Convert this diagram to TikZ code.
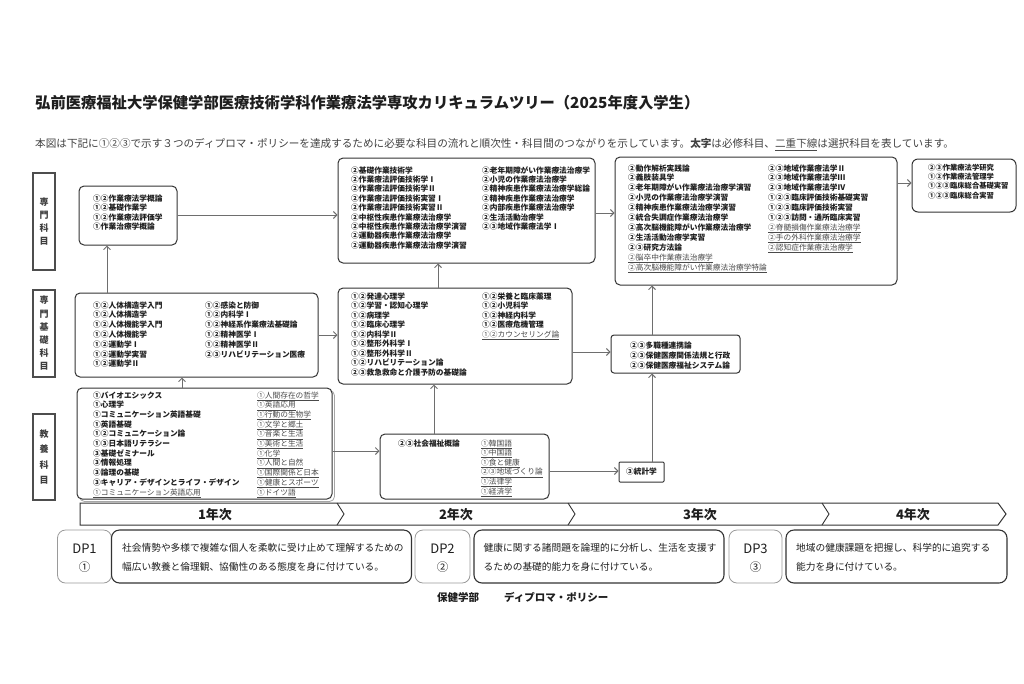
\documentclass[tikz,border=0pt]{standalone}
\usepackage{fontspec}
\setmainfont{Noto Sans CJK JP}
\usetikzlibrary{arrows.meta}
\definecolor{ink}{HTML}{1E1E1E}
\definecolor{frame}{HTML}{333333}
\definecolor{arrowc}{HTML}{6E6E6E}
\definecolor{optc}{HTML}{4A4A4A}
\definecolor{catc}{HTML}{4D4D4D}
\definecolor{dpc}{HTML}{9A9A9A}
\newcommand\opt[1]{{\mdseries\color{optc}\underline{#1}}}
\newcommand\boxfont{\fontsize{7.7}{9.6}\selectfont\bfseries}
\tikzset{
  cbox/.style={draw=frame, line width=1pt, rounded corners=5pt, inner sep=0pt, fill=white},
  catbox/.style={draw=catc, line width=2pt, inner sep=0pt, fill=white},
  cattxt/.style={inner sep=0pt, align=center, text=catc!80!black},
  txt/.style={inner sep=0pt, anchor=base west, font=\boxfont, text=ink},
  arr/.style={draw=arrowc, line width=0.9pt, -{Straight Barb[length=3.5pt,width=7pt]}},
  dplab/.style={draw=dpc, line width=0.8pt, rounded corners=8pt, inner sep=0pt},
  dptext/.style={draw=frame, line width=1.1pt, rounded corners=8pt, inner sep=0pt},
  dpt/.style={inner sep=0pt, anchor=base west, font=\fontsize{9.7}{12}\selectfont, text=ink},
  yeart/.style={inner sep=0pt, anchor=base, font=\fontsize{13}{15}\selectfont\bfseries, text=ink},
}
\newcommand\lines[6]{%
  \foreach \t [count=\i from 0] in {#6}{%
    \node[txt,#2] (#1-\i) at (#3,{#4+\i*#5}) {\t};}}
\newcommand\cb[6]{%
  \node[cbox,#2,minimum width=#5-#3,minimum height=#6-#4] (#1) at ({(#3+#5)/2},{(#4+#6)/2}) {};}
\begin{document}
\begin{tikzpicture}[x=1pt,y=-1pt]
\useasboundingbox (0,0) rectangle (1024,683);
\fill[white] (0,0) rectangle (1024,683);

% title and description
\node[inner sep=0pt, anchor=base west, font=\fontsize{15.3}{17}\selectfont\bfseries, text=ink] (title) at (35,108.8)
  {弘前医療福祉大学保健学部医療技術学科作業療法学専攻カリキュラムツリー（2025年度入学生）};
\node[inner sep=0pt, anchor=base west, font=\fontsize{10.6}{12}\selectfont, text=ink!85] (desc) at (35,147.5)
  {本図は下記に①②③で示す３つのディプロマ・ポリシーを達成するために必要な科目の流れと順次性・科目間のつながりを示しています。\textbf{太字}は必修科目、{\color{optc}\underline{二重下線}}は選択科目を表しています。};

% category labels
\node[catbox, minimum width=22, minimum height=97] (k1) at (44,221.5) {};
\node[cattxt, font=\fontsize{9}{13}\selectfont\bfseries] (k1t) at (k1) {専\\門\\科\\目};
\node[catbox, minimum width=22, minimum height=87] (k2) at (44,333.5) {};
\node[cattxt, font=\fontsize{9}{13.2}\selectfont\bfseries] (k2t) at (k2) {専\\門\\基\\礎\\科\\目};
\node[catbox, minimum width=22, minimum height=86] (k3) at (44,457) {};
\node[cattxt, font=\fontsize{9}{15.3}\selectfont\bfseries] (k3t) at (k3) {教\\養\\科\\目};

% boxes
\draw[draw=gray!70, line width=0.8pt, rounded corners=5pt] (79.5,390.5) rectangle (334.5,501.5);
\cb{A}{}{79}{186}{177}{245}
\cb{B}{}{75}{293}{318}{377}
\cb{C}{}{77}{388}{332}{499}
\cb{D}{}{380}{434}{549}{499}
\cb{F}{}{338}{158}{595}{263}
\cb{H}{}{338}{288}{572}{384}
\cb{G}{}{615}{157}{897}{285}
\cb{I}{rounded corners=3pt}{611}{335}{740}{373}
\cb{J}{rounded corners=6pt}{912}{159}{1016}{212}
\node[draw=frame, line width=1pt, rounded corners=1pt, minimum width=45, minimum height=20, inner sep=0pt, font=\boxfont, text=ink] (E) at (641.5,472) {③統計学};

% texts
\lines{a}{}{93}{201}{9.6}{①②作業療法学概論,①②基礎作業学,①②作業療法評価学,①作業治療学概論}
\lines{b1}{}{93}{308}{9.8}{①②人体構造学入門,①②人体構造学,①②人体機能学入門,①②人体機能学,①②運動学Ⅰ,①②運動学実習,①②運動学Ⅱ}
\lines{b2}{}{205}{308}{9.8}{①②感染と防御,①②内科学Ⅰ,①②神経系作業療法基礎論,①②精神医学Ⅰ,①②精神医学Ⅱ,②③リハビリテーション医療}
\lines{c1}{}{93}{398}{9.7}{①バイオエシックス,①心理学,①コミュニケーション英語基礎,①英語基礎,①②コミュニケーション論,①③日本語リテラシー,③基礎ゼミナール,③情報処理,③論理の基礎,③キャリア・デザインとライフ・デザイン,\opt{①コミュニケーション英語応用}}
\lines{c2}{}{257}{398}{9.7}{\opt{①人間存在の哲学},\opt{①英語応用},\opt{①行動の生物学},\opt{①文学と郷土},\opt{①音楽と生活},\opt{①美術と生活},\opt{①化学},\opt{①人間と自然},\opt{①国際関係と日本},\opt{①健康とスポーツ},\opt{①ドイツ語}}
\lines{d1}{}{398}{446}{9.6}{②③社会福祉概論}
\lines{d2}{}{481}{446}{9.6}{\opt{①韓国語},\opt{①中国語},\opt{①食と健康},\opt{②③地域づくり論},\opt{①法律学},\opt{①経済学}}
\lines{f1}{}{351}{173}{9.4}{②基礎作業技術学,②作業療法評価技術学Ⅰ,②作業療法評価技術学Ⅱ,②作業療法評価技術実習Ⅰ,②作業療法評価技術実習Ⅱ,②中枢性疾患作業療法治療学,②中枢性疾患作業療法治療学演習,②運動器疾患作業療法治療学,②運動器疾患作業療法治療学演習}
\lines{f2}{}{482}{173}{9.4}{②老年期障がい作業療法治療学,②小児の作業療法治療学,②精神疾患作業療法治療学総論,②精神疾患作業療法治療学,②内部疾患作業療法治療学,②生活活動治療学,②③地域作業療法学Ⅰ}
\lines{h1}{}{351}{299}{9.5}{①②発達心理学,①②学習・認知心理学,①②病理学,①②臨床心理学,①②内科学Ⅱ,①②整形外科学Ⅰ,①②整形外科学Ⅱ,①②リハビリテーション論,②③救急救命と介護予防の基礎論}
\lines{h2}{}{482}{299}{9.5}{①②栄養と臨床薬理,①②小児科学,①②神経内科学,①②医療危機管理,\opt{①②カウンセリング論}}
\lines{g1}{}{628}{171}{9.9}{②動作解析実践論,②義肢装具学,②老年期障がい作業療法治療学演習,②小児の作業療法治療学演習,②精神疾患作業療法治療学演習,②統合失調症作業療法治療学,②高次脳機能障がい作業療法治療学,②生活活動治療学実習,②③研究方法論,\opt{②脳卒中作業療法治療学},\opt{②高次脳機能障がい作業療法治療学特論}}
\lines{g2}{}{768}{171}{9.9}{②③地域作業療法学Ⅱ,②③地域作業療法学Ⅲ,②③地域作業療法学Ⅳ,①②③臨床評価技術基礎実習,①②③臨床評価技術実習,①②③訪問・通所臨床実習,\opt{②脊髄損傷作業療法治療学},\opt{②手の外科作業療法治療学},\opt{②認知症作業療法治療学}}
\lines{i}{}{630}{348}{10}{②③多職種連携論,②③保健医療関係法規と行政,②③保健医療福祉システム論}
\lines{j}{font=\fontsize{7.3}{9}\selectfont\bfseries}{928}{170}{9.4}{②③作業療法学研究,①②作業療法管理学,①②③臨床総合基礎実習,①②③臨床総合実習}

% connectors
\coordinate (c1) at (107,0);
\coordinate (c2) at (182,0);
\coordinate (c3) at (0,335);
\coordinate (c4) at (0,451);
\coordinate (c5) at (434,0);
\coordinate (c6) at (438,0);
\coordinate (c7) at (0,213);
\coordinate (c8) at (0,352);
\coordinate (c9) at (0,471);
\coordinate (c10) at (652,0);
\coordinate (c11) at (0,183);
\coordinate (c12) at (0,215);
\draw[arr] (A.east |- c12) -- (F.west |- c12);
\draw[arr] (B.north -| c1) -- (A.south -| c1);
\draw[arr] (C.north -| c2) -- (B.south -| c2);
\draw[arr] (B.east |- c3) -- (H.west |- c3);
\draw[arr] (C.east |- c4) -- (D.west |- c4);
\draw[arr] (D.north -| c5) -- (H.south -| c5);
\draw[arr] (H.north -| c6) -- (F.south -| c6);
\draw[arr] (F.east |- c7) -- (G.west |- c7);
\draw[arr] (H.east |- c8) -- (I.west |- c8);
\draw[arr] (D.east |- c9) -- (E.west |- c9);
\draw[arr] (E.north -| c10) -- (I.south -| c10);
\draw[arr] (I.north -| c10) -- (G.south -| c10);
\draw[arr] (G.east |- c11) -- (J.west |- c11);

% year bar
\draw[frame, line width=1pt, line join=miter] (80,503) -- (998,503) -- (1006,514) -- (998,525) -- (80,525) -- cycle;
\foreach \xx in {337,568,822} \draw[frame, line width=0.9pt] (\xx,503) -- (\xx+7,514) -- (\xx,525);
\node[yeart] (y1) at (215,519) {1年次};
\node[yeart] (y2) at (456,519) {2年次};
\node[yeart] (y3) at (700,519) {3年次};
\node[yeart] (y4) at (913,519) {4年次};

% diploma policies
\node[dplab, minimum width=54, minimum height=53] (p1) at (84.5,556.5) {};
\node[dptext, minimum width=300, minimum height=53] (t1) at (261.5,556.5) {};
\node[dplab, minimum width=55, minimum height=53] (p2) at (442.5,556.5) {};
\node[dptext, minimum width=250, minimum height=53] (t2) at (599,556.5) {};
\node[dplab, minimum width=53, minimum height=53] (p3) at (755.5,556.5) {};
\node[dptext, minimum width=221, minimum height=53] (t3) at (896.5,556.5) {};
\node[inner sep=0pt, anchor=base, font=\fontsize{13}{14}\selectfont, text=ink] (p1a) at (84.5,553.5) {DP1};
\node[inner sep=0pt, anchor=base, font=\fontsize{11.5}{14}\selectfont, text=ink] (p1b) at (84.5,571.5) {①};
\node[inner sep=0pt, anchor=base, font=\fontsize{13}{14}\selectfont, text=ink] (p2a) at (442.5,553.5) {DP2};
\node[inner sep=0pt, anchor=base, font=\fontsize{11.5}{14}\selectfont, text=ink] (p2b) at (442.5,571.5) {②};
\node[inner sep=0pt, anchor=base, font=\fontsize{13}{14}\selectfont, text=ink] (p3a) at (755.5,553.5) {DP3};
\node[inner sep=0pt, anchor=base, font=\fontsize{11.5}{14}\selectfont, text=ink] (p3b) at (755.5,571.5) {③};
\node[dpt] (t1a) at (122,551.7) {社会情勢や多様で複雑な個人を柔軟に受け止めて理解するための};
\node[dpt] (t1b) at (122,570.7) {幅広い教養と倫理観、協働性のある態度を身に付けている。};
\node[dpt] (t2a) at (483.5,551.7) {健康に関する諸問題を論理的に分析し、生活を支援す};
\node[dpt] (t2b) at (483.5,570.7) {るための基礎的能力を身に付けている。};
\node[dpt] (t3a) at (796,551.7) {地域の健康課題を把握し、科学的に追究する};
\node[dpt] (t3b) at (796,570.7) {能力を身に付けている。};
\node[inner sep=0pt, anchor=base west, font=\fontsize{10.5}{12}\selectfont\bfseries, text=ink] (foot1) at (437,601) {保健学部};
\node[inner sep=0pt, anchor=base west, font=\fontsize{10.5}{12}\selectfont\bfseries, text=ink] (foot2) at (504,601) {ディプロマ・ポリシー};
\end{tikzpicture}
\end{document}
